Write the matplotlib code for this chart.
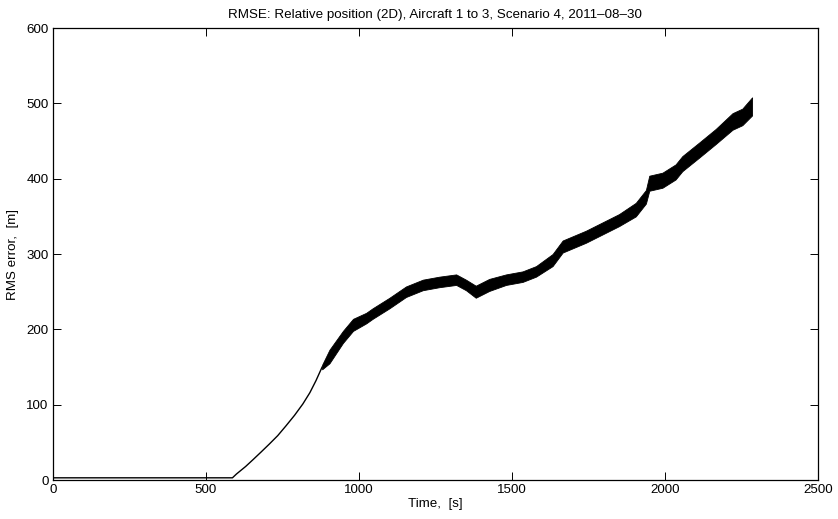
import numpy as np
import matplotlib.pyplot as plt

plt.rcParams['font.family'] = ['Liberation Sans', 'DejaVu Sans']

# quiet / smooth part of the curve: time [s], RMS error [m]
t_smooth = [0, 100, 200, 300, 400, 500, 587, 600, 630, 654, 680, 708, 735,
            762, 790, 817, 840, 860, 880]
v_smooth = [3, 3, 3, 3, 3, 3, 3, 8, 18, 27, 37, 48, 59,
            72, 86, 101, 116, 132, 150]

# noisy part: band centre and half width
t_band = [880, 904, 948, 981, 1024, 1045, 1100, 1154, 1209, 1263, 1318, 1350,
          1382, 1426, 1481, 1535, 1579, 1633, 1666, 1742, 1796, 1850, 1905,
          1938, 1949, 1992, 2035, 2057, 2112, 2166, 2221, 2253, 2285]
v_band = [150, 164, 190, 206, 215, 221, 235, 250, 259, 263, 266, 259,
          250, 259, 266, 270, 277, 292, 310, 323, 334, 345, 359,
          376, 394, 398, 409, 420, 438, 456, 476, 482, 496]
w_band = [3, 9, 8, 8, 7, 7, 7, 7, 7, 7, 7, 7,
          8, 8, 7, 7, 7, 8, 8, 8, 8, 8, 9,
          9, 10, 10, 10, 10, 10, 10, 11, 11, 12]

FS = 9.6

fig = plt.figure(figsize=(8.38, 5.19), dpi=100)
ax = fig.add_axes([0.063, 0.075, 0.913, 0.871])

ax.plot(t_smooth, v_smooth, color='black', lw=1.0)
lo = np.array(v_band) - np.array(w_band)
hi = np.array(v_band) + np.array(w_band)
ax.fill_between(t_band, lo, hi, color='black', lw=0.6, edgecolor='black')

ax.set_xlim(0, 2500)
ax.set_ylim(0, 600)
ax.set_xticks(np.arange(0, 2501, 500))
ax.set_yticks(np.arange(0, 601, 100))
ax.tick_params(direction='in', top=True, right=True, length=5.5, width=0.7,
               labelsize=FS, pad=3)
for s in ax.spines.values():
    s.set_linewidth(0.9)

ax.set_title('RMSE: Relative position (2D), Aircraft 1 to 3, Scenario 4, 2011\u201208\u201230',
             fontsize=FS, pad=7)
ax.set_xlabel('Time,  [s]', fontsize=FS, labelpad=1)
ax.set_ylabel('RMS error,  [m]', fontsize=FS, labelpad=5)

fig.savefig('out.png', dpi=100)
